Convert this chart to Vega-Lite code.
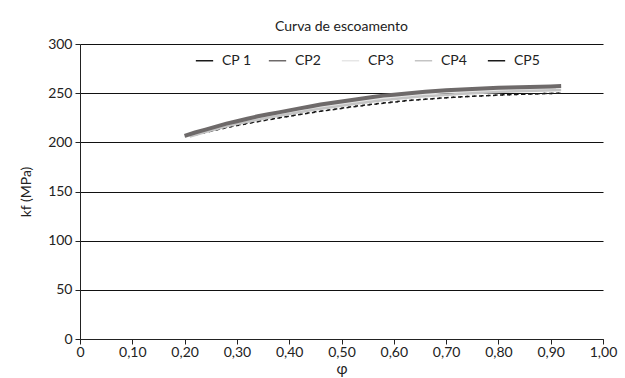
{
  "$schema": "https://vega.github.io/schema/vega-lite/v6.json",
  "width": 523,
  "height": 295,
  "autosize": {"type": "none"},
  "padding": {"left": 80, "top": 44, "right": 22, "bottom": 39},
  "background": "white",
  "title": {"text": "Curva de escoamento", "font": "Lato", "fontSize": 14, "fontWeight": "normal", "color": "#222", "offset": 6, "dy": 3, "anchor": "middle"},
  "config": {
    "view": {"stroke": null},
    "font": "Lato"
  },
  "data": {"values": [
    {"s":"CP2","phi":0.20,"kf":206.5},{"s":"CP2","phi":0.22,"kf":210},{"s":"CP2","phi":0.24,"kf":213},{"s":"CP2","phi":0.26,"kf":216},{"s":"CP2","phi":0.28,"kf":219},{"s":"CP2","phi":0.30,"kf":221.5},{"s":"CP2","phi":0.32,"kf":224},{"s":"CP2","phi":0.34,"kf":226.5},{"s":"CP2","phi":0.36,"kf":228.5},{"s":"CP2","phi":0.38,"kf":230.5},{"s":"CP2","phi":0.40,"kf":232.5},{"s":"CP2","phi":0.42,"kf":234.5},{"s":"CP2","phi":0.44,"kf":236.5},{"s":"CP2","phi":0.46,"kf":238.5},{"s":"CP2","phi":0.48,"kf":240},{"s":"CP2","phi":0.50,"kf":241.5},{"s":"CP2","phi":0.52,"kf":243},{"s":"CP2","phi":0.54,"kf":244.5},{"s":"CP2","phi":0.56,"kf":246},{"s":"CP2","phi":0.58,"kf":247.5},{"s":"CP2","phi":0.60,"kf":248.5},{"s":"CP2","phi":0.62,"kf":249.5},{"s":"CP2","phi":0.64,"kf":250.5},{"s":"CP2","phi":0.66,"kf":251.5},{"s":"CP2","phi":0.68,"kf":252.3},{"s":"CP2","phi":0.70,"kf":253},{"s":"CP2","phi":0.72,"kf":253.5},{"s":"CP2","phi":0.74,"kf":254},{"s":"CP2","phi":0.76,"kf":254.5},{"s":"CP2","phi":0.78,"kf":255},{"s":"CP2","phi":0.80,"kf":255.5},{"s":"CP2","phi":0.82,"kf":255.8},{"s":"CP2","phi":0.84,"kf":256},{"s":"CP2","phi":0.86,"kf":256.3},{"s":"CP2","phi":0.88,"kf":256.6},{"s":"CP2","phi":0.90,"kf":256.9},{"s":"CP2","phi":0.92,"kf":257.2},
    {"s":"CP3","phi":0.20,"kf":205.5},{"s":"CP3","phi":0.24,"kf":211.8},{"s":"CP3","phi":0.28,"kf":217.5},{"s":"CP3","phi":0.32,"kf":222.3},{"s":"CP3","phi":0.36,"kf":226.8},{"s":"CP3","phi":0.40,"kf":230.7},{"s":"CP3","phi":0.44,"kf":234.6},{"s":"CP3","phi":0.48,"kf":238},{"s":"CP3","phi":0.52,"kf":241},{"s":"CP3","phi":0.56,"kf":244},{"s":"CP3","phi":0.60,"kf":246.5},{"s":"CP3","phi":0.64,"kf":248.5},{"s":"CP3","phi":0.68,"kf":250.3},{"s":"CP3","phi":0.72,"kf":251.5},{"s":"CP3","phi":0.76,"kf":252.5},{"s":"CP3","phi":0.80,"kf":253.5},{"s":"CP3","phi":0.84,"kf":254},{"s":"CP3","phi":0.88,"kf":254.6},{"s":"CP3","phi":0.91,"kf":255},
    {"s":"CP4","phi":0.21,"kf":206},{"s":"CP4","phi":0.25,"kf":212},{"s":"CP4","phi":0.29,"kf":217.5},{"s":"CP4","phi":0.33,"kf":222},{"s":"CP4","phi":0.37,"kf":226},{"s":"CP4","phi":0.41,"kf":229.8},{"s":"CP4","phi":0.45,"kf":233.3},{"s":"CP4","phi":0.49,"kf":236.5},{"s":"CP4","phi":0.53,"kf":239.5},{"s":"CP4","phi":0.57,"kf":242.3},{"s":"CP4","phi":0.61,"kf":244.5},{"s":"CP4","phi":0.65,"kf":246.5},{"s":"CP4","phi":0.69,"kf":248},{"s":"CP4","phi":0.73,"kf":249.3},{"s":"CP4","phi":0.77,"kf":250.5},{"s":"CP4","phi":0.81,"kf":251.5},{"s":"CP4","phi":0.85,"kf":252.2},{"s":"CP4","phi":0.89,"kf":252.8},{"s":"CP4","phi":0.92,"kf":253.2},
    {"s":"CP 1","phi":0.21,"kf":206.5},{"s":"CP 1","phi":0.25,"kf":211.5},{"s":"CP 1","phi":0.29,"kf":216.5},{"s":"CP 1","phi":0.33,"kf":220.5},{"s":"CP 1","phi":0.37,"kf":224},{"s":"CP 1","phi":0.41,"kf":227.5},{"s":"CP 1","phi":0.45,"kf":231},{"s":"CP 1","phi":0.49,"kf":234},{"s":"CP 1","phi":0.53,"kf":237},{"s":"CP 1","phi":0.57,"kf":239.5},{"s":"CP 1","phi":0.61,"kf":241.8},{"s":"CP 1","phi":0.65,"kf":243.5},{"s":"CP 1","phi":0.69,"kf":245},{"s":"CP 1","phi":0.73,"kf":246.3},{"s":"CP 1","phi":0.77,"kf":247.3},{"s":"CP 1","phi":0.81,"kf":248.3},{"s":"CP 1","phi":0.85,"kf":249},{"s":"CP 1","phi":0.89,"kf":249.6},{"s":"CP 1","phi":0.92,"kf":250},
    {"s":"CP5","phi":0.22,"kf":207.5},{"s":"CP5","phi":0.26,"kf":212.5},{"s":"CP5","phi":0.30,"kf":217},{"s":"CP5","phi":0.34,"kf":221},{"s":"CP5","phi":0.38,"kf":224.8},{"s":"CP5","phi":0.42,"kf":228.3},{"s":"CP5","phi":0.46,"kf":231.5},{"s":"CP5","phi":0.50,"kf":234.5},{"s":"CP5","phi":0.54,"kf":237.3},{"s":"CP5","phi":0.58,"kf":239.8},{"s":"CP5","phi":0.62,"kf":242},{"s":"CP5","phi":0.66,"kf":243.8},{"s":"CP5","phi":0.70,"kf":245.3},{"s":"CP5","phi":0.74,"kf":246.5},{"s":"CP5","phi":0.78,"kf":247.5},{"s":"CP5","phi":0.82,"kf":248.4},{"s":"CP5","phi":0.86,"kf":249.1},{"s":"CP5","phi":0.90,"kf":249.7},{"s":"CP5","phi":0.92,"kf":250}
  ]},
  "encoding": {
    "x": {"field": "phi", "type": "quantitative",
      "scale": {"domain": [0, 1], "nice": false},
      "axis": {"values": [0,0.1,0.2,0.3,0.4,0.5,0.6,0.7,0.8,0.9,1.0],
        "labelExpr": "datum.value == 0 ? '0' : replace(format(datum.value, '.2f'), '.', ',')",
        "title": "φ", "titleFont": "Lato", "titleFontSize": 15, "titleFontWeight": "normal", "titleColor": "#222", "titlePadding": 2,
        "labelFont": "Lato", "labelFontSize": 14, "labelColor": "#222", "labelPadding": 1,
        "domainColor": "#222", "tickColor": "#222", "tickSize": 5, "grid": false, "labelFlush": false}},
    "y": {"field": "kf", "type": "quantitative",
      "scale": {"domain": [0, 300], "nice": false},
      "axis": {"values": [0,50,100,150,200,250,300],
        "title": "kf (MPa)", "titleFont": "Lato", "titleFontSize": 14, "titleFontWeight": "normal", "titleColor": "#222", "titlePadding": 14,
        "labelFont": "Lato", "labelFontSize": 14, "labelColor": "#222", "labelPadding": 3,
        "domainColor": "#222", "tickColor": "#222", "tickSize": 5,
        "grid": true, "gridColor": "#111", "gridOpacity": 1, "gridWidth": 1.2}}
  },
  "layer": [
    {
      "transform": [{"filter": "datum.s == 'CP 1' || datum.s == 'CP5'"}],
      "mark": {"type": "line", "strokeWidth": 1.5, "strokeDash": [3, 4]},
      "encoding": {
        "detail": {"field": "s"},
        "color": {"field": "s", "type": "nominal",
          "scale": {"domain": ["CP 1","CP2","CP3","CP4","CP5"], "range": ["#1a1a1a","#6e6a6a","#e6e6e6","#c4c4c4","#1a1a1a"]},
          "legend": {"orient": "none", "legendX": 115, "legendY": 7, "direction": "horizontal", "title": null,
            "symbolType": "stroke", "symbolStrokeWidth": 1.5, "symbolSize": 300,
            "labelFont": "Lato", "labelFontSize": 14, "labelColor": "#222", "labelOffset": 8,
            "columnPadding": 13, "gridAlign": "all", "symbolOpacity": 1}}
      }
    },
    {
      "transform": [{"filter": "datum.s == 'CP3' || datum.s == 'CP4'"}],
      "mark": {"type": "line", "strokeWidth": 2.5},
      "encoding": {"color": {"field": "s", "type": "nominal"}}
    },
    {
      "transform": [{"filter": "datum.s == 'CP2'"}],
      "mark": {"type": "line", "strokeWidth": 4},
      "encoding": {"color": {"field": "s", "type": "nominal"}}
    }
  ]
}
